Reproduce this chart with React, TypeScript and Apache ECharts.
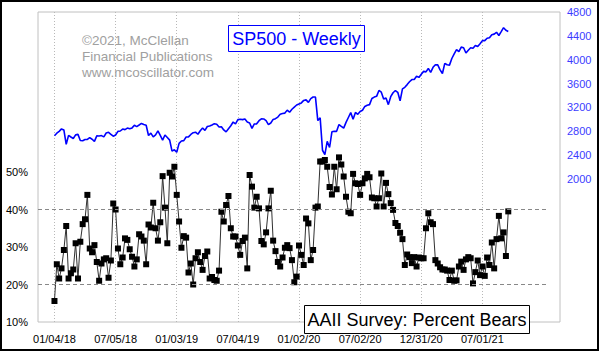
import React, { useEffect, useRef } from "react";
import * as echarts from "echarts";

// Week index 0 = 01/04/18, weekly (Thursday) observations
const bears2018 = [15.6, 25.4, 21.6, 24.3, 29.2, 35.6, 21.6, 23.0, 24.0, 31.0, 21.6, 31.4, 36.1, 37.4, 43.9, 29.6, 28.6, 30.5, 26.0, 21.0, 25.6, 26.7, 27.0, 21.8, 26.4, 41.6, 40.0, 29.6, 25.4, 27.2, 32.3, 31.9, 29.4, 27.4, 24.8, 26.7, 33.4, 32.8, 31.7, 25.4, 36.0, 35.2, 41.8, 35.0, 31.7, 36.6, 48.9, 40.5, 31.0, 49.8, 48.8, 51.4];
const bears2019 = [43.9, 36.8, 29.8, 32.9, 32.5, 23.2, 25.6, 20.0, 27.0, 28.6, 26.0, 23.9, 27.6, 28.8, 21.6, 22.0, 21.2, 21.0, 23.7, 39.4, 36.8, 41.2, 43.6, 35.0, 32.8, 32.8, 30.4, 27.9, 31.6, 32.5, 24.3, 49.2, 46.1, 40.5, 43.4, 40.3, 31.6, 30.7, 33.9, 40.3, 45.0, 31.7, 28.9, 26.0, 24.8, 27.2, 29.8, 30.5, 29.7, 26.5, 20.6, 22.1];
const bears2020 = [30.4, 27.9, 25.2, 37.6, 36.3, 26.5, 29.2, 40.5, 40.8, 52.8, 52.8, 53.2, 51.4, 46.0, 44.0, 51.4, 45.4, 53.9, 52.0, 48.8, 43.4, 39.4, 39.0, 49.5, 47.0, 46.8, 43.9, 47.0, 48.3, 49.5, 48.6, 43.2, 43.0, 40.8, 43.0, 49.6, 40.8, 47.1, 44.1, 41.7, 39.9, 36.4, 35.6, 33.8, 32.1, 25.2, 28.0, 27.3, 25.7, 27.3, 24.8, 27.2, 27.0];
const bears2021 = [27.0, 35.0, 39.0, 36.6, 36.1, 26.5, 25.6, 24.6, 24.0, 24.0, 23.7, 21.2, 23.7, 21.0, 21.1, 24.8, 26.1, 23.9, 26.7, 27.3, 27.0, 20.3, 23.3, 26.4, 22.5, 24.8, 22.3, 27.2, 25.2, 31.2, 24.3, 32.1, 38.3, 32.3, 33.9, 27.6, 39.5];

const sp2018 = [2724, 2767, 2798, 2839, 2822, 2581, 2731, 2703, 2678, 2739, 2747, 2644, 2641, 2662, 2663, 2693, 2666, 2630, 2723, 2720, 2727, 2705, 2770, 2782, 2749, 2716, 2737, 2798, 2804, 2837, 2827, 2853, 2840, 2856, 2901, 2878, 2904, 2931, 2914, 2901, 2728, 2768, 2705, 2740, 2806, 2730, 2650, 2737, 2695, 2651, 2467, 2488];
const sp2019 = [2448, 2596, 2636, 2643, 2704, 2706, 2746, 2775, 2784, 2749, 2809, 2855, 2815, 2880, 2888, 2905, 2927, 2918, 2871, 2876, 2822, 2789, 2843, 2892, 2954, 2925, 2996, 3000, 2995, 3004, 2954, 2938, 2848, 2922, 2924, 2977, 3009, 3006, 2977, 2911, 2938, 2998, 3010, 3038, 3085, 3097, 3104, 3154, 3118, 3169, 3205, 3240];
const sp2020 = [3258, 3275, 3317, 3326, 3284, 3346, 3374, 3373, 2979, 3024, 2481, 2409, 2630, 2527, 2790, 2800, 2798, 2912, 2882, 2853, 2949, 3030, 3112, 3002, 3115, 3084, 3130, 3152, 3216, 3236, 3246, 3349, 3373, 3385, 3484, 3455, 3339, 3357, 3246, 3380, 3446, 3483, 3453, 3310, 3510, 3537, 3582, 3630, 3667, 3668, 3722, 3703, 3756];
const sp2021 = [3804, 3796, 3853, 3787, 3872, 3916, 3913, 3829, 3768, 3939, 3915, 3909, 4020, 4097, 4170, 4135, 4211, 4201, 4112, 4159, 4200, 4192, 4239, 4221, 4266, 4320, 4320, 4360, 4367, 4419, 4429, 4460, 4406, 4470, 4537, 4493, 4473];

const bears = [...bears2018, ...bears2019, ...bears2020, ...bears2021];
const sp500 = [...sp2018, ...sp2019, ...sp2020, ...sp2021];

const tickWeeks = [0, 26, 52, 78, 104, 130, 156, 182];
const tickLabels = ["01/04/18", "07/05/18", "01/03/19", "07/04/19", "01/02/20", "07/02/20", "12/31/20", "07/01/21"];
const firstWeek = -7;
const lastWeek = 215;
const dashedLevels = [20, 40];
const dashedEndWeek = 210;

const copyrightLines = ["\u00a92021, McClellan", "Financial Publications", "www.mcoscillator.com"];
const spTitle = "SP500 - Weekly";
const bearsTitle = "AAII Survey: Percent Bears";

const FONT = "'Liberation Sans', Arial, sans-serif";

export default function App() {
  const ref = useRef<HTMLDivElement>(null);
  useEffect(() => {
    document.body.style.margin = "0";
    if (!ref.current) return;
    const chart = echarts.init(ref.current, undefined, { renderer: "svg" });
    const categories: string[] = [];
    for (let w = firstWeek; w <= lastWeek; w++) categories.push(String(w));
    const isTick = (v: string) => tickWeeks.indexOf(Number(v)) >= 0;

    chart.setOption({
      animation: false,
      backgroundColor: "#fff",
      textStyle: { fontFamily: FONT },
      grid: {
        left: 38,
        right: 40,
        top: 12,
        bottom: 30,
        show: true,
        borderColor: "#c0c0c0",
        borderWidth: 1,
        backgroundColor: "transparent",
      },
      xAxis: {
        type: "category",
        data: categories,
        boundaryGap: false,
        axisLine: { show: false },
        axisTick: { show: false },
        axisLabel: {
          interval: (_i: number, v: string) => isTick(v),
          formatter: (v: string) => {
            const k = tickWeeks.indexOf(Number(v));
            return k >= 0 ? tickLabels[k] : "";
          },
          color: "#000",
          fontSize: 11,
          fontFamily: FONT,
          margin: 11,
        },
        splitLine: {
          show: true,
          interval: (_i: number, v: string) => isTick(v),
          lineStyle: { color: "#b8b8b8", type: [1, 2], width: 1 },
        },
      },
      yAxis: [
        {
          type: "value",
          min: 10,
          max: 92.67,
          interval: 10,
          position: "left",
          axisLine: { show: false },
          axisTick: { show: false },
          splitLine: { show: false },
          axisLabel: {
            formatter: (v: number) => (v <= 50 ? v + "%" : ""),
            color: "#000",
            fontSize: 11,
            fontFamily: FONT,
            margin: 10,
          },
        },
        {
          type: "value",
          min: -400,
          max: 4800,
          interval: 400,
          position: "right",
          axisLine: { show: false },
          axisTick: { show: false },
          splitLine: { show: false },
          axisLabel: {
            formatter: (v: number) => (v >= 2000 ? String(v) : ""),
            color: "#3c3cff",
            fontSize: 11,
            fontFamily: FONT,
            margin: 7,
          },
        },
      ],
      series: [
        {
          type: "line",
          yAxisIndex: 1,
          data: sp500.map((v, i) => [String(i), v]),
          showSymbol: false,
          lineStyle: { color: "#0000ff", width: 1.6 },
          silent: true,
          z: 3,
        },
        {
          type: "line",
          yAxisIndex: 0,
          data: bears.map((v, i) => [String(i), v]),
          symbol: "rect",
          symbolSize: 6,
          showAllSymbol: true,
          itemStyle: { color: "#000" },
          lineStyle: { color: "#303030", width: 1 },
          silent: true,
          z: 2,
          markLine: {
            silent: true,
            symbol: "none",
            label: { show: false },
            lineStyle: { color: "#888", type: [4, 3], width: 1 },
            data: dashedLevels.map((lv) => [
              { coord: [String(firstWeek), lv] },
              { coord: [String(dashedEndWeek), lv] },
            ]),
          },
        },
      ],
      graphic: [
        {
          type: "text",
          left: 82,
          top: 32,
          z: 10,
          style: {
            text: copyrightLines.join("\n"),
            fill: "#a0a0a0",
            font: "13.5px " + FONT,
            lineHeight: 16.3,
          },
        },
        {
          type: "rect",
          shape: { x: 228.5, y: 25.5, width: 136, height: 26 },
          style: { fill: "#fff", stroke: "#0000ff", lineWidth: 1 },
          z: 10,
        },
        {
          type: "text",
          x: 296.5,
          y: 38.5,
          z: 11,
          style: {
            text: spTitle,
            fill: "#0000ff",
            font: "18px " + FONT,
            align: "center",
            verticalAlign: "middle",
          },
        },
        {
          type: "rect",
          shape: { x: 304.5, y: 305.5, width: 225, height: 28 },
          style: { fill: "#fff", stroke: "#000", lineWidth: 1 },
          z: 10,
        },
        {
          type: "text",
          x: 417,
          y: 320,
          z: 11,
          style: {
            text: bearsTitle,
            fill: "#000",
            font: "18px " + FONT,
            align: "center",
            verticalAlign: "middle",
          },
        },
        {
          type: "rect",
          shape: { x: 1, y: 1, width: 597, height: 349 },
          style: { fill: "none", stroke: "#000", lineWidth: 2 },
          z: 20,
        },
      ],
    });
    return () => chart.dispose();
  }, []);
  return <div ref={ref} style={{ width: 600, height: 352 }} />;
}
